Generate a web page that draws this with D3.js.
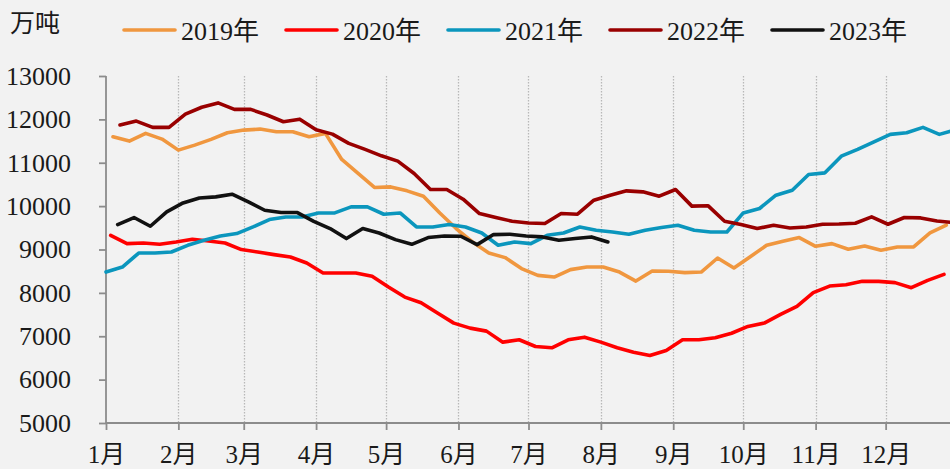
<!DOCTYPE html>
<html>
<head>
<meta charset="utf-8">
<script src="https://cdn.jsdelivr.net/npm/d3@7.9.0/dist/d3.min.js"></script>
<style>
  html, body { margin: 0; padding: 0; background: #f2f2f2; }
  svg text { font-family: "Liberation Serif", "Times New Roman", "Noto Sans CJK SC", serif; fill: #1a1a1a; }
</style>
</head>
<body>
<svg id="chart" width="950" height="469"></svg>
<script>
// weekly values (万吨), one point per Friday, first Friday of each year given below
const years = ["2019年", "2020年", "2021年", "2022年", "2023年"];
const firstDates = ["01-04", "01-03", "01-01", "01-07", "01-06"];
const colors = ["#f0973f", "#ff0000", "#0b96bd", "#990000", "#111111"];

const values2019 = [11598, 11499, 11677, 11545, 11291, 11406, 11538, 11691, 11753, 11776, 11714, 11714, 11598,
  11677, 11076, 10753, 10430, 10443, 10352, 10229, 9843, 9483, 9173, 8919, 8813, 8560,
  8404, 8365, 8536, 8596, 8596, 8480, 8272, 8503, 8497, 8467, 8480, 8804, 8573,
  8834, 9097, 9189, 9274, 9074, 9136, 9005, 9081, 8982, 9058, 9058, 9381, 9561];
const values2020 = [9328, 9136, 9150, 9120, 9173, 9236, 9196, 9150, 8998, 8942, 8882, 8827, 8688,
  8457, 8457, 8457, 8381, 8134, 7903, 7774, 7534, 7303, 7187, 7118, 6864, 6919,
  6764, 6734, 6919, 6979, 6864, 6734, 6633, 6557, 6672, 6919, 6919, 6965, 7070,
  7226, 7303, 7503, 7688, 8005, 8157, 8189, 8266, 8266, 8236, 8120, 8289, 8427];
const values2021 = [8480, 8596, 8919, 8919, 8942, 9097, 9212, 9312, 9367, 9520, 9690, 9751, 9751,
  9843, 9843, 9982, 9982, 9813, 9843, 9520, 9520, 9575, 9520, 9381, 9097, 9173,
  9136, 9328, 9381, 9520, 9443, 9404, 9351, 9443, 9506, 9559, 9443, 9404, 9404,
  9843, 9945, 10252, 10367, 10730, 10767, 11152, 11307, 11483, 11654, 11691, 11815, 11654, 11760];
const values2022 = [11870, 11960, 11815, 11815, 12120, 12280, 12380, 12230, 12230, 12100, 11945, 12005, 11760,
  11660, 11446, 11307, 11160, 11037, 10753, 10383, 10383, 10159, 9829, 9737, 9651, 9612,
  9598, 9829, 9813, 10136, 10252, 10352, 10329, 10229, 10383, 10000, 10007, 9651, 9575,
  9483, 9559, 9497, 9520, 9582, 9589, 9605, 9751, 9582, 9737, 9728, 9658, 9620];
const values2023 = [9575, 9737, 9536, 9867, 10074, 10189, 10213, 10275, 10097, 9905, 9852, 9852, 9650,
  9483, 9252, 9483, 9381, 9228, 9120, 9275, 9312, 9305, 9113, 9344, 9351, 9312,
  9290, 9212, 9252, 9290, 9173];

const yTicks = [5000, 6000, 7000, 8000, 9000, 10000, 11000, 12000, 13000];
const monthLabels = ["1月", "2月", "3月", "4月", "5月", "6月", "7月", "8月", "9月", "10月", "11月", "12月"];
const unitLabel = "万吨";

const allValues = [values2019, values2020, values2021, values2022, values2023];

const svg = d3.select("#chart");

// common (non-leap) year for the x axis
const base = new Date(2023, 0, 1);
const end = new Date(2024, 0, 1);
const x = d3.scaleTime().domain([base, end]).range([106, 958]);
const y = d3.scaleLinear().domain([5000, 13000]).range([423, 76]);

const parseMD = d3.timeParse("%m-%d");

const series = years.map((name, i) => {
  const first = parseMD(firstDates[i]);
  const startDay = d3.timeDay.count(new Date(1900, 0, 1), first);
  return {
    name,
    color: colors[i],
    points: allValues[i].map((v, k) => ({ date: d3.timeDay.offset(base, startDay + 7 * k), value: v }))
  };
});

const monthStarts = d3.timeMonth.range(base, end);

// dotted month grid lines
svg.append("g")
  .selectAll("line")
  .data(monthStarts.slice(1))
  .join("line")
  .attr("x1", d => Math.round(x(d)) + 0.5)
  .attr("x2", d => Math.round(x(d)) + 0.5)
  .attr("y1", y(13000))
  .attr("y2", y(5000))
  .attr("stroke", "#b8b8b8")
  .attr("stroke-width", 1.3)
  .attr("stroke-dasharray", "1.5,1.5");

// y axis
const yAxis = svg.append("g")
  .attr("transform", "translate(106,0)")
  .call(d3.axisLeft(y).tickValues(yTicks).tickSize(7).tickPadding(28).tickFormat(d3.format("d")));
yAxis.select(".domain").attr("stroke", "#8c8c8c").attr("stroke-width", 1.8).attr("d", `M0,${y(13000)}V${y(5000)}`);
yAxis.selectAll(".tick line").attr("stroke", "#8c8c8c").attr("stroke-width", 1.8);
yAxis.selectAll(".tick text").attr("font-size", 26).attr("fill", "#1a1a1a")
  .style("font-family", "'Liberation Serif', 'Times New Roman', serif");

// x axis
const xAxis = svg.append("g")
  .attr("transform", `translate(0,${y(5000)})`)
  .call(d3.axisBottom(x).tickValues(monthStarts).tickSize(7).tickPadding(15)
    .tickFormat((d, i) => monthLabels[i]));
xAxis.select(".domain").attr("stroke", "#8c8c8c").attr("stroke-width", 1.8).attr("d", "M106,0H950");
xAxis.selectAll(".tick line").attr("stroke", "#8c8c8c").attr("stroke-width", 1.8);
xAxis.selectAll(".tick text").attr("font-size", 25).attr("fill", "#1a1a1a");

// series lines
const line = d3.line().x(d => x(d.date)).y(d => y(d.value));
svg.append("g")
  .selectAll("path")
  .data(series)
  .join("path")
  .attr("d", d => line(d.points))
  .attr("fill", "none")
  .attr("stroke", d => d.color)
  .attr("stroke-width", 3.6)
  .attr("stroke-linejoin", "round")
  .attr("stroke-linecap", "round");

// unit label
svg.append("text")
  .attr("x", 10)
  .attr("y", 32)
  .attr("font-size", 25)
  .text(unitLabel);

// legend
const legend = svg.append("g")
  .selectAll("g")
  .data(series)
  .join("g")
  .attr("transform", (d, i) => `translate(${124 + i * 162},30)`);
legend.append("line")
  .attr("x1", 0).attr("x2", 51)
  .attr("stroke", d => d.color)
  .attr("stroke-width", 3.6)
  .attr("stroke-linecap", "round");
legend.append("text")
  .attr("x", 57)
  .attr("y", 10)
  .attr("font-size", 26)
  .text(d => d.name);
</script>
</body>
</html>
